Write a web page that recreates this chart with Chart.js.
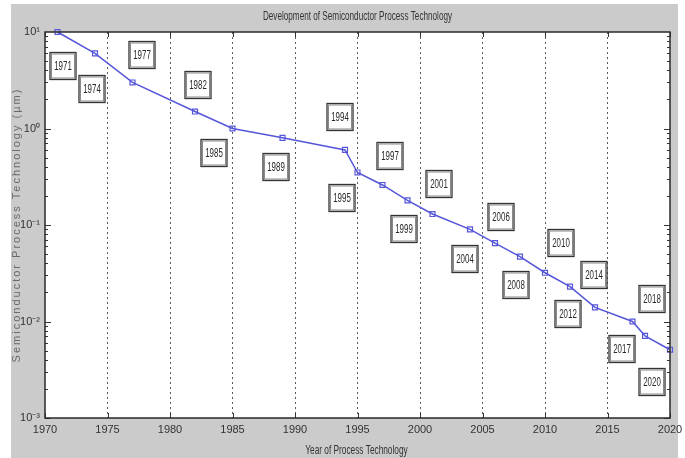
<!DOCTYPE html>
<html>
<head>
<meta charset="utf-8">
<script src="https://cdn.jsdelivr.net/npm/chart.js@4.4.1/dist/chart.umd.min.js"></script>
<style>
  html, body { margin: 0; padding: 0; background: #fff; }
  #wrap { width: 685px; height: 458px; }
</style>
</head>
<body>
<div id="wrap"><canvas id="chart" width="685" height="458"></canvas></div>
<script>
// ===== Dados =====
const years = [1971, 1974, 1977, 1982, 1985, 1989, 1994, 1995, 1997, 1999,
               2001, 2004, 2006, 2008, 2010, 2012, 2014, 2017, 2018, 2020];
const nodeSizes = [10, 6, 3, 1.5, 1, 0.8, 0.6, 0.35, 0.26, 0.18,
                   0.13, 0.09, 0.065, 0.047, 0.032, 0.023, 0.014, 0.01, 0.0071, 0.0051];
const xTicks = [1970, 1975, 1980, 1985, 1990, 1995, 2000, 2005, 2010, 2015, 2020];
const yTicks = [0.001, 0.01, 0.1, 1, 10];
const yTickLabels = ['10⁻³', '10⁻²', '10⁻¹', '10⁰', '10¹'];

const chartTitle = 'Development of Semiconductor Process Technology';
const xTitle = 'Year of Process Technology';
const yTitle = 'Semiconductor Process Technology (µm)';

// deslocamento (px) das caixas de ano em relação ao ponto
const labelOffsets = [[5, 34], [-3, 36], [9, -27], [3, -27], [-19, 24], [-7, 29], [-5, -33],
                      [-16, 26], [7, -29], [-4, 29], [6, -30], [-5, 30], [6, -26], [-4, 28],
                      [16, -30], [-2, 27], [-1, -32], [-11, 27], [7, -37], [-18, 32]];

const SANS = "'Liberation Sans', Arial, sans-serif";
const LINE_BLUE = '#5656da';

// texto estreito (a fonte original é condensada)
function narrowText(ctx, text, x, y, sx, sy) {
  ctx.save();
  ctx.translate(x, y);
  ctx.scale(sx, sy);
  ctx.fillText(text, 0, 0);
  ctx.restore();
}

// Fundo cinza da figura e área branca do gráfico
const backgroundPlugin = {
  id: 'figureBackground',
  beforeDraw(chart) {
    const { ctx, chartArea: a } = chart;
    ctx.save();
    ctx.fillStyle = '#ffffff';
    ctx.fillRect(0, 0, chart.width, chart.height);
    ctx.fillStyle = '#cbcbcb';
    ctx.fillRect(11, 4, 667, 454);
    ctx.fillStyle = '#ffffff';
    ctx.fillRect(a.left, a.top, a.right - a.left, a.bottom - a.top);
    ctx.restore();
  }
};

// Moldura, marcas internas dos eixos e títulos
const framePlugin = {
  id: 'axesFrame',
  afterDraw(chart) {
    const { ctx, chartArea: a, scales } = chart;
    ctx.save();
    ctx.strokeStyle = '#333';
    ctx.lineWidth = 1;
    ctx.beginPath();
    xTicks.forEach(v => {
      const x = Math.round(scales.x.getPixelForValue(v)) + 0.5;
      ctx.moveTo(x, a.bottom); ctx.lineTo(x, a.bottom - 5);
      ctx.moveTo(x, a.top); ctx.lineTo(x, a.top + 5);
    });
    for (let k = -3; k <= 0; k++) {
      for (let m = 1; m <= 9; m++) {
        const y = Math.round(scales.y.getPixelForValue(m * Math.pow(10, k))) + 0.5;
        const len = m === 1 ? 6 : 3;
        ctx.moveTo(a.left, y); ctx.lineTo(a.left + len, y);
        ctx.moveTo(a.right, y); ctx.lineTo(a.right - len, y);
      }
    }
    ctx.stroke();

    ctx.strokeStyle = '#2a2a2a';
    ctx.lineWidth = 1.5;
    ctx.strokeRect(a.left, a.top, a.right - a.left, a.bottom - a.top);

    // títulos superior e do eixo X
    const cx = (a.left + a.right) / 2;
    ctx.fillStyle = '#333';
    ctx.font = '12px ' + SANS;
    ctx.textAlign = 'center';
    ctx.textBaseline = 'middle';
    narrowText(ctx, chartTitle, cx, 16, 0.68, 1.1);
    narrowText(ctx, xTitle, cx - 1, 450, 0.69, 1.1);

    // título do eixo Y (espaçado)
    ctx.translate(17, (a.top + a.bottom) / 2);
    ctx.rotate(-Math.PI / 2);
    ctx.fillStyle = '#6a6a6a';
    ctx.font = '11px ' + SANS;
    ctx.letterSpacing = '2px';
    ctx.fillText(yTitle, 0, 0);
    ctx.restore();
  }
};

// Caixas com o ano de cada ponto
const yearBoxPlugin = {
  id: 'yearBoxes',
  afterDatasetsDraw(chart) {
    const { ctx } = chart;
    const meta = chart.getDatasetMeta(0);
    ctx.save();
    ctx.font = '11px ' + SANS;
    ctx.textAlign = 'center';
    ctx.textBaseline = 'middle';
    meta.data.forEach((pt, i) => {
      const [dx, dy] = labelOffsets[i];
      const cx = Math.round(pt.x + dx);
      const cy = Math.round(pt.y + dy);
      const w = 26, h = 27;
      const x0 = cx - w / 2, y0 = cy - h / 2;
      ctx.fillStyle = '#ffffff';
      ctx.fillRect(x0, y0, w, h);
      ctx.strokeStyle = '#8a8a8a';
      ctx.lineWidth = 1;
      ctx.strokeRect(x0 + 1.5, y0 + 1.5, w - 3, h - 3);
      ctx.strokeStyle = '#333';
      ctx.lineWidth = 1.3;
      ctx.strokeRect(x0, y0, w, h);
      ctx.fillStyle = '#2a2a2a';
      narrowText(ctx, String(years[i]), cx, cy + 1, 0.72, 1.1);
    });
    ctx.restore();
  }
};

new Chart(document.getElementById('chart'), {
  type: 'line',
  data: {
    labels: years,
    datasets: [{
      data: years.map((y, i) => ({ x: y, y: nodeSizes[i] })),
      borderColor: LINE_BLUE,
      borderWidth: 1.5,
      pointStyle: 'rect',
      pointRadius: 3.5,
      pointBorderWidth: 1.2,
      pointBorderColor: LINE_BLUE,
      pointBackgroundColor: 'rgba(0,0,0,0)',
      tension: 0,
      clip: false
    }]
  },
  options: {
    responsive: false,
    animation: false,
    devicePixelRatio: 1,
    layout: { padding: { left: 11, right: 15, top: 32, bottom: 0 } },
    plugins: {
      legend: { display: false },
      tooltip: { enabled: false },
      title: { display: false }
    },
    scales: {
      x: {
        type: 'linear',
        min: 1970,
        max: 2020,
        afterBuildTicks: s => { s.ticks = xTicks.map(v => ({ value: v })); },
        afterFit: s => { s.height = 40; s.paddingLeft = 0; s.paddingRight = 0; },
        grid: {
          color: c => (c.tick && (c.tick.value === 1970 || c.tick.value === 2020)) ? 'rgba(0,0,0,0)' : '#5a5a5a',
          lineWidth: 1,
          drawTicks: false
        },
        border: { display: false, dash: [2, 3] },
        ticks: {
          color: '#333',
          padding: 5,
          maxRotation: 0,
          autoSkip: false,
          font: { family: SANS, size: 11 },
          callback: v => String(v)
        }
      },
      y: {
        type: 'logarithmic',
        min: 0.001,
        max: 10,
        afterBuildTicks: s => { s.ticks = yTicks.map(v => ({ value: v })); },
        afterFit: s => { s.width = 34; s.paddingTop = 0; s.paddingBottom = 0; },
        grid: { display: false, drawTicks: false },
        border: { display: false },
        ticks: {
          color: '#333',
          padding: 5,
          autoSkip: false,
          font: { family: SANS, size: 11 },
          callback: v => {
            const i = yTicks.findIndex(t => Math.abs(Math.log10(t) - Math.log10(v)) < 1e-6);
            return i >= 0 ? yTickLabels[i] : '';
          }
        }
      }
    }
  },
  plugins: [backgroundPlugin, framePlugin, yearBoxPlugin]
});
</script>
</body>
</html>
